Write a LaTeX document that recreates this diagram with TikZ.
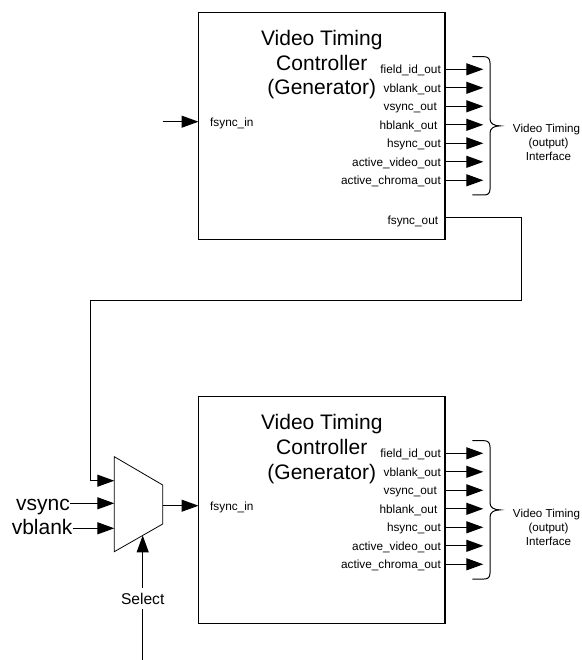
\documentclass[tikz,border=0pt]{standalone}
\usepackage{fontspec}
\setmainfont{Liberation Sans}
\usetikzlibrary{arrows.meta}
\begin{document}
\begin{tikzpicture}[x=1pt,y=-1pt,
  wire/.style={line width=1.1pt},
  arr/.style={wire,-{Triangle[length=17pt,width=12pt]}},
  box/.style={draw,line width=1.1pt,minimum width=246.5pt,minimum height=226.6pt,inner sep=0pt},
  big/.style={font=\fontsize{21}{25}\selectfont,inner sep=0pt},
  small/.style={font=\fontsize{11.8}{14}\selectfont,inner sep=0pt},
  side/.style={font=\fontsize{11.6}{14}\selectfont,inner sep=0pt},
  mid/.style={font=\fontsize{15.6}{18}\selectfont},
  bracepath/.style={line width=1pt}]
\useasboundingbox (0,0) rectangle (581,660);

\foreach \p/\dy in {a/0,b/384}{
\begin{scope}[shift={(0,\dy)}]
  \node[box] (\p) at (321.75,126) {};
  \node[big,anchor=base] (\p-t1) at (321.75,45.7) {Video Timing};
  \node[big,anchor=base] (\p-t2) at (321.75,70.3) {Controller};
  \node[big,anchor=base] (\p-t3) at (321.75,95) {(Generator)};
  \coordinate (\p-in) at (198.5,121.7);
  \node[small,anchor=base west] (\p-inl) at (210,126.2) {fsync\_in};
  \foreach \n/\lab/\xe in {0/field\_id\_out/441,1/vblank\_out/441,2/vsync\_out/437,3/hblank\_out/437.5,4/hsync\_out/441,5/active\_video\_out/441,6/active\_chroma\_out/441}{
    \pgfmathsetmacro\yy{69.3+18.5*\n}
    \pgfmathsetmacro\yb{\yy+4.5}
    \node[small,anchor=base east] (\p-l\n) at (\xe,\yb) {\lab};
    \coordinate (\p-o\n) at (445,\yy);
    \coordinate (\p-e\n) at (483.3,\yy);
    \draw[arr] (\p-o\n) -- (\p-e\n);
  }
  \draw[bracepath] (472.3,56.7) -- (484,56.7) .. controls (488,56.7) and (490,58.7) .. (490,63)
    -- (490,119) .. controls (490,123.5) and (494,125.9) .. (500,125.9)
    .. controls (494,125.9) and (490,128.3) .. (490,133) -- (490,189)
    .. controls (490,193.3) and (488,195) .. (484,195) -- (472.3,195);
  \node[side,anchor=base] (\p-v1) at (546.5,133) {Video Timing};
  \node[side,anchor=base] (\p-v2) at (548.5,147) {(output)};
  \node[side,anchor=base] (\p-v3) at (548.5,161) {Interface};
\end{scope}
}

% top block free input and output
\coordinate (a-src) at (162.7,121.7);
\draw[arr] (a-src) -- (a-in);
\coordinate (fo) at (445,217.3);
\node[small,anchor=base east] (fol) at (438.3,224) {fsync\_out};

% mux
\coordinate (m1) at (114.3,456.7);
\coordinate (m2) at (162.7,485);
\coordinate (m3) at (162.7,524);
\coordinate (m4) at (114.3,551.7);
\draw[line width=0.8pt] (m1) -- (m2) -- (m3) -- (m4) -- cycle;
\coordinate (mi1) at (114.3,480.7);
\coordinate (mi2) at (114.3,503.3);
\coordinate (mi3) at (114.3,528.3);
\coordinate (mo) at (162.7,505.7);
\coordinate (msel) at (142.7,535.4);
\coordinate (selb) at (142.7,662);
\coordinate (c1) at (521.7,300.7);
\coordinate (c2) at (90.7,480.7);

\draw[arr] (fo) -| (c1) -| (c2) -- (mi1);
\draw[arr] (mo) -- (b-in);

\node[big,anchor=base east] (vs) at (70,510.5) {vsync};
\node[big,anchor=base east] (vb) at (72.7,534.5) {vblank};
\draw[arr] (vs.east |- mi2) -- (mi2);
\draw[arr] (vb.east |- mi3) -- (mi3);

\draw[arr] (selb) -- node[mid,fill=white,inner xsep=1pt,inner ysep=5pt] (sel) {Select} (msel);
\end{tikzpicture}
\end{document}
